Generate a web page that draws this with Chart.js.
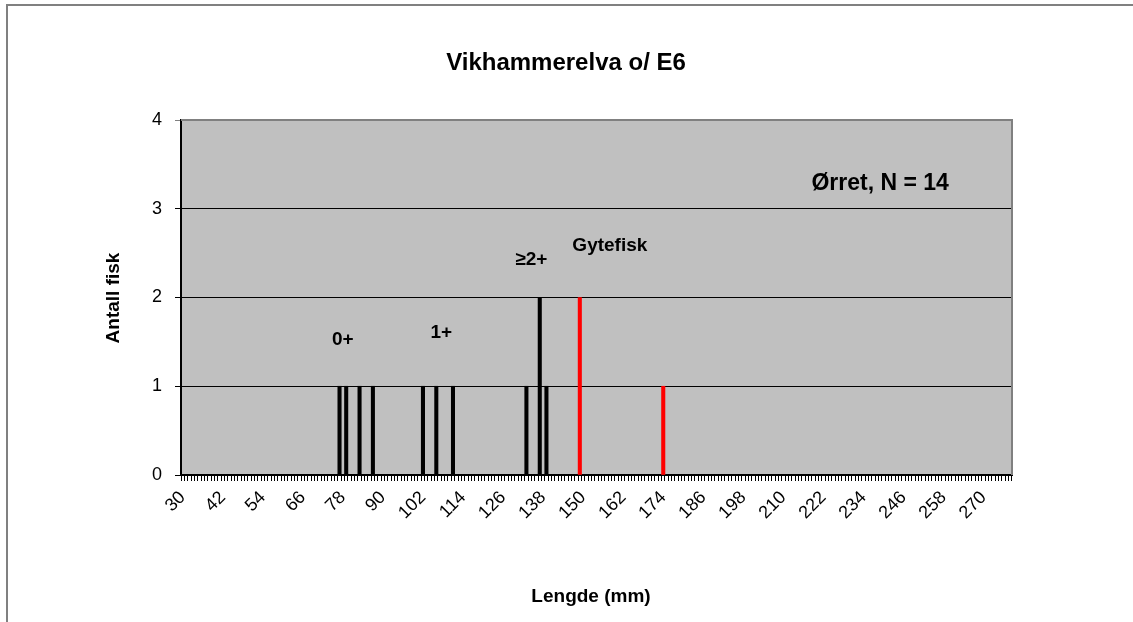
<!DOCTYPE html>
<html>
<head>
<meta charset="utf-8">
<script src="https://cdn.jsdelivr.net/npm/chart.js@4"></script>
<style>
  body { margin: 0; background: #fff; }
  canvas { display: block; }
</style>
</head>
<body>
<canvas id="chart" width="1133" height="622"></canvas>
<script>
// data
const minLength = 30;
const maxLength = 278;
const labelStep = 12;
const yTicks = [0, 1, 2, 3, 4];

const fishLengths = [77, 79, 83, 87, 102, 106, 111, 133, 137, 139];
const fishCounts  = [1, 1, 1, 1, 1, 1, 1, 1, 2, 1];
const spawnLengths = [149, 174];
const spawnCounts  = [2, 1];

const chartTitle = 'Vikhammerelva o/ E6';
const xTitle = 'Lengde (mm)';
const yTitle = 'Antall fisk';
const speciesNote = 'Ørret, N = 14';
const groupLabels = ['0+', '1+', '≥2+', 'Gytefisk'];
const groupAt = [[78, 1.52], [107.5, 1.6], [134.5, 2.42], [158, 2.58]];

const categories = [];
for (let l = minLength; l <= maxLength; l++) categories.push(String(l));

function toSeries(lengths, counts) {
  const arr = categories.map(() => null);
  lengths.forEach((l, i) => { arr[l - minLength] = counts[i]; });
  return arr;
}

const FONT = '"Liberation Sans", Arial, sans-serif';

const decorPlugin = {
  id: 'decor',
  beforeDraw(chart) {
    const { ctx, chartArea: a } = chart;
    ctx.save();
    ctx.fillStyle = '#c0c0c0';
    ctx.fillRect(a.left, a.top, a.right - a.left, a.bottom - a.top);
    // outer frame
    ctx.strokeStyle = '#808080';
    ctx.lineWidth = 2;
    ctx.beginPath();
    ctx.moveTo(7, 622); ctx.lineTo(7, 5); ctx.lineTo(1133, 5);
    ctx.stroke();
    ctx.restore();
  },
  afterDraw(chart) {
    const { ctx, chartArea: a, scales } = chart;
    ctx.save();
    // plot frame top/right
    ctx.strokeStyle = '#808080';
    ctx.lineWidth = 2;
    ctx.beginPath();
    ctx.moveTo(a.left, a.top); ctx.lineTo(a.right, a.top); ctx.lineTo(a.right, a.bottom);
    ctx.stroke();

    ctx.fillStyle = '#000';
    ctx.textAlign = 'center';
    ctx.textBaseline = 'middle';
    ctx.font = 'bold 24px ' + FONT;
    ctx.fillText(chartTitle, 566, 63);
    ctx.font = 'bold 19px ' + FONT;
    ctx.fillText(xTitle, 591, 597);
    ctx.save();
    ctx.translate(114, 298);
    ctx.rotate(-Math.PI / 2);
    ctx.fillText(yTitle, 0, 0);
    ctx.restore();

    ctx.font = 'bold 19px ' + FONT;
    groupLabels.forEach((t, i) => {
      const x = scales.x.getPixelForValue(groupAt[i][0] - minLength);
      const y = scales.y.getPixelForValue(groupAt[i][1]);
      ctx.fillText(t, x, y);
    });
    ctx.font = 'bold 23px ' + FONT;
    ctx.fillText(speciesNote, scales.x.getPixelForValue(239 - minLength), scales.y.getPixelForValue(3.28));
    ctx.restore();
  }
};

new Chart(document.getElementById('chart'), {
  type: 'bar',
  data: {
    labels: categories,
    datasets: [
      { label: 'Ørret', data: toSeries(fishLengths, fishCounts), backgroundColor: '#000', barThickness: 3.4, grouped: false },
      { label: 'Gytefisk', data: toSeries(spawnLengths, spawnCounts), backgroundColor: '#ff0000', barThickness: 3.4, grouped: false }
    ]
  },
  options: {
    responsive: false,
    animation: false,
    layout: { padding: { top: 120, right: 121, left: 0, bottom: 0 } },
    plugins: { legend: { display: false }, tooltip: { enabled: false }, title: { display: false } },
    scales: {
      x: {
        afterFit: s => { s.height = 147; },
        grid: { display: true, drawOnChartArea: false, tickLength: 6, color: '#000', lineWidth: 1, offset: true },
        border: { color: '#000', width: 2 },
        ticks: {
          autoSkip: false, minRotation: 45, maxRotation: 45, padding: 6,
          color: '#000', font: { family: FONT, size: 18 },
          callback: (v, i) => (i % labelStep === 0 ? categories[i] : '')
        }
      },
      y: {
        min: yTicks[0], max: yTicks[yTicks.length - 1],
        afterFit: s => { s.width = 181; },
        afterBuildTicks: s => { s.ticks = yTicks.map(v => ({ value: v })); },
        grid: { color: ctx => (ctx.tick && ctx.tick.value === 4 ? '#808080' : '#000'), tickLength: 6, lineWidth: 1 },
        border: { color: '#000', width: 2 },
        ticks: { color: '#000', padding: 13, font: { family: FONT, size: 18 } }
      }
    }
  },
  plugins: [decorPlugin]
});
</script>
</body>
</html>
